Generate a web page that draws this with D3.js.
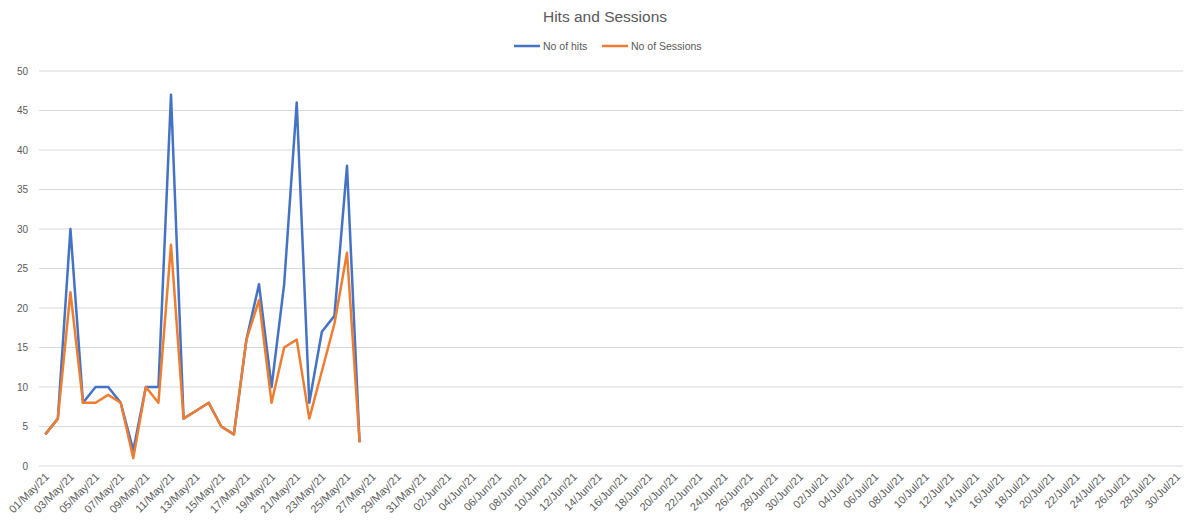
<!DOCTYPE html>
<html>
<head>
<meta charset="utf-8">
<script src="https://cdn.jsdelivr.net/npm/d3@7"></script>
<style>
  body { margin: 0; background: #fff; }
  svg { font-family: "Liberation Sans", "Open Sans", sans-serif; }
</style>
</head>
<body>
<script>
    // Chart data
    const startDate = new Date(2021, 4, 1);   // 01/May/21
    const endDate = new Date(2021, 6, 31);    // axis runs to 30/Jul/21
    const hits = [4, 6, 30, 8, 10, 10, 8, 2, 10, 10, 47, 6, 7, 8, 5, 4, 16, 23, 10, 23, 46, 8, 17, 19, 38, 3];
    const sessions = [4, 6, 22, 8, 8, 9, 8, 1, 10, 8, 28, 6, 7, 8, 5, 4, 16, 21, 8, 15, 16, 6, 12, 18, 27, 3];
    const yTicks = [0, 5, 10, 15, 20, 25, 30, 35, 40, 45, 50];
    const seriesNames = ["No of hits", "No of Sessions"];
    const seriesColors = ["#4472C4", "#ED7D31"];

    const width = 1197;
    const height = 521;
    const margin = { top: 71, right: 14, bottom: 55, left: 39 };

    const days = d3.timeDay.range(startDate, endDate);
    const fmt = d3.timeFormat("%d/%b/%y");

    const svg = d3.select("body")
        .append("svg")
        .attr("width", width)
        .attr("height", height);

    const x = d3.scaleBand()
        .domain(days.map((d, i) => i))
        .range([margin.left, width - margin.right])
        .padding(0);

    const y = d3.scaleLinear()
        .domain([0, 50])
        .range([height - margin.bottom, margin.top]);

    const cx = i => x(i) + x.bandwidth() / 2;

    // Gridlines
    svg.append("g")
        .selectAll("line")
        .data(yTicks)
        .enter()
        .append("line")
        .attr("x1", margin.left)
        .attr("x2", width - margin.right)
        .attr("y1", d => y(d))
        .attr("y2", d => y(d))
        .attr("stroke", "#d9d9d9")
        .attr("stroke-width", 1);

    // Y axis labels
    svg.append("g")
        .selectAll("text")
        .data(yTicks)
        .enter()
        .append("text")
        .attr("x", 28)
        .attr("y", d => y(d) + 3.5)
        .attr("text-anchor", "end")
        .attr("font-size", "10px")
        .attr("fill", "#595959")
        .text(d => d);

    // X axis labels, every second day, rotated
    const labelIdx = days.map((d, i) => i).filter(i => i % 2 === 0);
    svg.append("g")
        .selectAll("text")
        .data(labelIdx)
        .enter()
        .append("text")
        .attr("transform", i => `translate(${cx(i) - 1},${height - margin.bottom + 6}) rotate(-45)`)
        .attr("text-anchor", "end")
        .attr("dy", "0.7em")
        .attr("font-size", "11px")
        .attr("fill", "#595959")
        .text(i => fmt(days[i]));

    // Lines
    const line = d3.line()
        .defined(d => d != null)
        .x((d, i) => cx(i))
        .y(d => y(d));

    [hits, sessions].forEach((vals, k) => {
        svg.append("path")
            .datum(vals)
            .attr("d", line)
            .attr("fill", "none")
            .attr("stroke", seriesColors[k])
            .attr("stroke-width", 2.5)
            .attr("stroke-linejoin", "round");
    });

    // Title
    svg.append("text")
        .attr("x", 605)
        .attr("y", 22)
        .attr("text-anchor", "middle")
        .attr("font-size", "15.5px")
        .attr("fill", "#595959")
        .text("Hits and Sessions");

    // Legend
    const legendX = [514, 602];
    seriesNames.forEach((name, k) => {
        svg.append("line")
            .attr("x1", legendX[k])
            .attr("x2", legendX[k] + 26)
            .attr("y1", 46)
            .attr("y2", 46)
            .attr("stroke", seriesColors[k])
            .attr("stroke-width", 2.5);
        svg.append("text")
            .attr("x", legendX[k] + 29)
            .attr("y", 49.5)
            .attr("font-size", "10.5px")
            .attr("fill", "#595959")
            .text(name);
    });
</script>
</body>
</html>
